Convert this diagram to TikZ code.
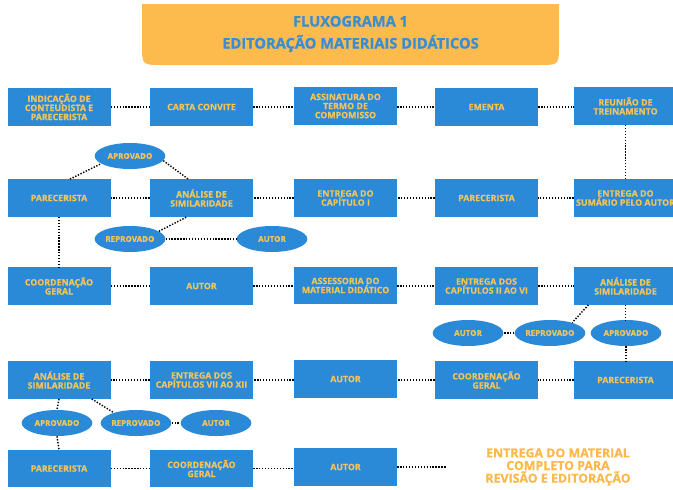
\documentclass[tikz,border=0pt]{standalone}
\usepackage{fontspec}
\setmainfont{Open Sans}[BoldFeatures={FakeBold=0.8}]
\usetikzlibrary{shapes.geometric}
\definecolor{boxblue}{RGB}{43,138,216}
\definecolor{boxtext}{RGB}{240,196,90}
\definecolor{titlebg}{RGB}{253,186,77}
\definecolor{titletext}{RGB}{56,142,212}
\definecolor{endtext}{RGB}{252,185,72}

\begin{document}
\begin{tikzpicture}[x=0.75pt,y=0.75pt,yscale=-1,xscale=1,
  box/.style={fill=boxblue,text=boxtext,font=\bfseries\fontsize{6.6}{6.8}\selectfont,align=center,minimum width=77.25pt,minimum height=28pt,inner sep=1pt},
  oval/.style={ellipse,fill=boxblue,text=boxtext,font=\bfseries\fontsize{6}{6}\selectfont,minimum width=53pt,minimum height=19.5pt,inner sep=0pt},
  link/.style={line width=1.1pt,dash pattern=on 1pt off 1.2pt}]
%set diagram size to the reference
\useasboundingbox (0,0) rectangle (673,489);

% Title
\fill[titlebg] (142,4) -- (142,45) .. controls (142,65) .. (162,65) -- (539,65) .. controls (559,65) .. (559,45) -- (559,4) -- cycle;
\node[text=titletext,font=\bfseries\fontsize{11}{16.5}\selectfont,align=center] (title) at (350.5,34) {FLUXOGRAMA 1\\EDITORAÇÃO MATERIAIS DIDÁTICOS};

% Text Node
\node[box] (ind) at (59,107) {INDICAÇÃO DE\\CONTEUDISTA E\\PARECERISTA};
% Text Node
\node[box] (carta) at (201.5,107) {CARTA CONVITE};
% Text Node
\node[box] (termo) at (345.5,106) {ASSINATURA DO\\TERMO DE\\COMPOMISSO};
% Text Node
\node[box] (ementa) at (486.5,107) {EMENTA};
% Text Node
\node[box] (reuniao) at (625.5,106) {REUNIÃO DE\\TREINAMENTO};

% Text Node
\node[box] (par1) at (59,198) {PARECERISTA};
% Text Node
\node[box] (sim1) at (201.5,198) {ANÁLISE DE\\SIMILARIDADE};
% Text Node
\node[box] (cap1) at (345.5,198) {ENTREGA DO\\CAPÍTULO I};
% Text Node
\node[box] (par2) at (486.5,198) {PARECERISTA};
% Text Node
\node[box] (sumario) at (625.5,198) {ENTREGA DO\\SUMÁRIO PELO AUTOR};

% Text Node
\node[oval] (apr1) at (130,156) {APROVADO};
% Text Node
\node[oval] (rep1) at (130,239) {REPROVADO};
% Text Node
\node[oval] (aut1) at (272,239) {AUTOR};

% Text Node
\node[box] (coord1) at (59,286) {COORDENAÇÃO\\GERAL};
% Text Node
\node[box] (aut2) at (201.5,286) {AUTOR};
% Text Node
\node[box] (asses) at (345.5,285.5) {ASSESSORIA DO\\MATERIAL DIDÁTICO};
% Text Node
\node[box] (cap2) at (486.5,286) {ENTREGA DOS\\CAPÍTULOS II AO VI};
% Text Node
\node[box] (sim2) at (625.5,286) {ANÁLISE DE\\SIMILARIDADE};

% Text Node
\node[oval] (aut3) at (468,333) {AUTOR};
% Text Node
\node[oval] (rep2) at (550,333) {REPROVADO};
% Text Node
\node[oval] (apr2) at (626,333) {APROVADO};

% Text Node
\node[box] (sim3) at (59,380) {ANÁLISE DE\\SIMILARIDADE};
% Text Node
\node[box] (cap3) at (201.5,380) {ENTREGA DOS\\CAPÍTULOS VII AO XII};
% Text Node
\node[box] (aut4) at (345.5,379) {AUTOR};
% Text Node
\node[box] (coord2) at (486.5,380) {COORDENAÇÃO\\GERAL};
% Text Node
\node[box] (par3) at (625.5,380) {PARECERISTA};

% Text Node
\node[oval] (apr3) at (57,423) {APROVADO};
% Text Node
\node[oval] (rep3) at (136,423) {REPROVADO};
% Text Node
\node[oval] (aut5) at (216,423) {AUTOR};

% Text Node
\node[box] (par4) at (59,468.5) {PARECERISTA};
% Text Node
\node[box] (coord3) at (201.5,468.5) {COORDENAÇÃO\\GERAL};
% Text Node
\node[box] (aut6) at (345.5,467) {AUTOR};
% Text Node
\node[text=endtext,font=\bfseries\fontsize{9.3}{9.5}\selectfont,align=center] (entrega) at (558,467) {ENTREGA DO MATERIAL\\COMPLETO PARA\\REVISÃO E EDITORAÇÃO};
\coordinate (fim) at (447,467);

% Connection
\draw[link] (ind) -- (carta);
\draw[link] (carta) -- (termo.west |- carta);
\draw[link] (termo.east |- ementa) -- (ementa);
\draw[link] (ementa) -- (reuniao.west |- ementa);
\draw[link] (reuniao.south) -- (sumario.north);
% Connection
\draw[link] (sumario) -- (par2);
\draw[link] (par2) -- (cap1);
\draw[link] (cap1) -- (sim1);
\draw[link] (sim1) -- (par1);
\draw[link] (par1.60) -- (apr1.195);
\draw[link] (apr1.-8) -- (sim1.125);
\draw[link] (rep1.15) -- (sim1.232);
\draw[link] (rep1) -- (aut1);
\draw[link] (par1.south) -- (coord1.north);
% Connection
\draw[link] (coord1) -- (aut2);
\draw[link] (aut2) -- (asses.west |- aut2);
\draw[link] (asses.east |- cap2) -- (cap2);
\draw[link] (cap2) -- (sim2);
\draw[link] (sim2.207) -- (rep2.25);
\draw[link] (rep2) -- (aut3);
\draw[link] (sim2.south) -- (sim2.south |- apr2.north);
\draw[link] (apr2.south) -- (apr2.south |- par3.north);
% Connection
\draw[link] (par3) -- (coord2);
\draw[link] (coord2) -- (aut4.east |- coord2);
\draw[link] (aut4.west |- cap3) -- (cap3);
\draw[link] (cap3) -- (sim3);
\draw[link] (sim3.south) -- (apr3.north);
\draw[link] (sim3.-30) -- (rep3.155);
\draw[link] (rep3) -- (aut5);
\draw[link] (apr3.south) -- (par4.north);
% Connection
\draw[link] (par4) -- (coord3);
\draw[link] (coord3) -- (aut6.west |- coord3);
\draw[link] (aut6) -- (fim);

\end{tikzpicture}
\end{document}
